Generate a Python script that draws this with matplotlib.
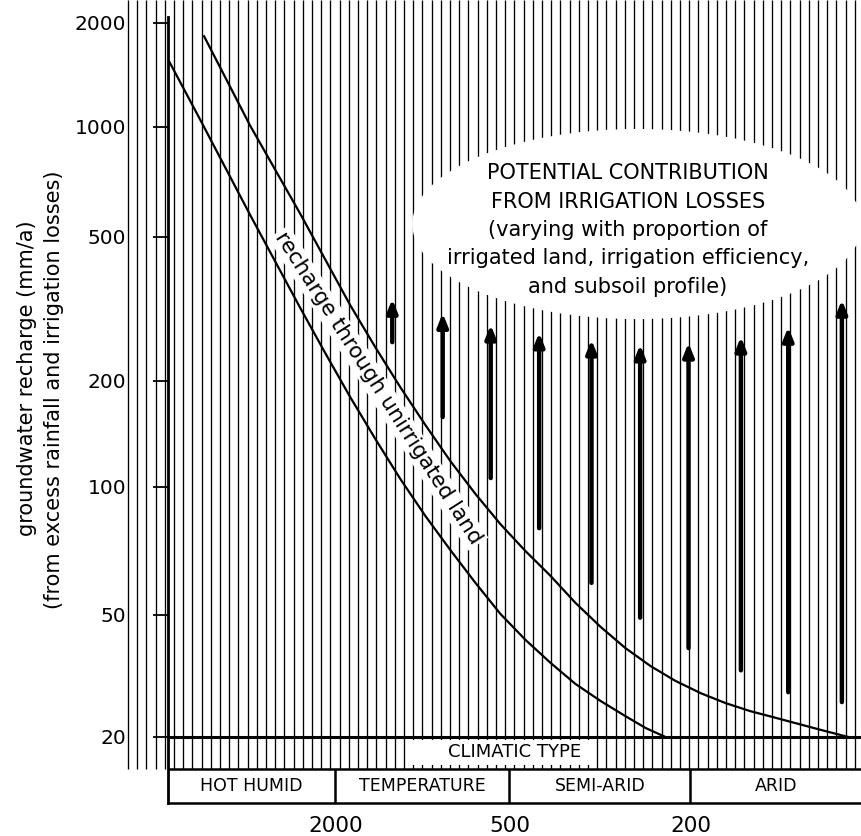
import numpy as np
import matplotlib
matplotlib.use('Agg')
import matplotlib.pyplot as plt
from matplotlib.patches import Ellipse, Rectangle
from matplotlib.ticker import NullLocator

plt.rcParams['font.family'] = ['DejaVu Sans']

# ---- data ----
y_ticks = [20, 50, 100, 200, 500, 1000, 2000]
x_ticks = [2000, 500, 200]
climate_types = ['HOT HUMID', 'TEMPERATURE', 'SEMI-ARID', 'ARID']

# recharge through unirrigated land (two bounding curves)
rain_lower = [7570, 5860, 3940, 2640, 2166, 1775, 1454, 1191, 976, 800, 655, 537,
              461, 406, 358, 315, 278, 251, 227]
rech_lower = [1570, 1050, 575, 318, 239, 180, 137, 105.4, 85.5, 71.1, 59.5, 50.3,
              41.5, 34.9, 29.8, 26.2, 23.4, 21.4, 20]
rain_upper = [5680, 3940, 2640, 1775, 1454, 1191, 976, 800, 655, 537, 461, 406,
              358, 315, 278, 245, 216, 190, 167.5, 148, 130, 115, 101, 90]
rech_upper = [1830, 1010, 578, 324, 248, 192, 150, 118.5, 96.3, 81.8, 70.7, 61.8,
              53.4, 45.7, 39.0, 34.1, 30.5, 27.8, 25.8, 24.3, 23.1, 22.0, 20.9, 20]

# potential contribution from irrigation losses (arrows)
arrow_rain = [1270, 850, 580, 430, 330, 258, 202, 155, 122, 93]
arrow_from = [256, 158, 106, 80, 59.5, 49, 39, 33, 28, 26]
arrow_to = [337, 308, 286, 272, 260, 252, 255, 265, 282, 335]

rain_lim = (7570, 84)
recharge_lim = (20, 2330)

# the original axes are hand drawn, tick spacing is uneven -> anchored log scales
y_anchor_pos = [0, 122, 250, 356, 500, 610, 714]
x_anchor_pos = [167, 341, 522]


def extrap(x, xp, fp):
    x = np.asarray(x, float)
    y = np.interp(x, xp, fp)
    lo = (fp[1] - fp[0]) / (xp[1] - xp[0])
    hi = (fp[-1] - fp[-2]) / (xp[-1] - xp[-2])
    y = np.where(x < xp[0], fp[0] + (x - xp[0]) * lo, y)
    y = np.where(x > xp[-1], fp[-1] + (x - xp[-1]) * hi, y)
    return y


def anchored_scale(vals, pos, sign):
    # forward is increasing in value; sign=-1 for an axis that runs high -> low
    lv = np.log10(np.asarray(vals, float))
    pos = sign * np.asarray(pos, float)
    order = np.argsort(lv)
    lv, pos = lv[order], pos[order]

    def fwd(v):
        v = np.clip(np.asarray(v, float), 1e-12, None)
        return extrap(np.log10(v), lv, pos)

    def inv(p):
        return 10 ** extrap(p, pos, lv)
    return fwd, inv


W, H = 862, 836
fig = plt.figure(figsize=(W / 100, H / 100), dpi=100)


def rect(l, t, r, b):
    return [l / W, 1 - b / H, (r - l) / W, (b - t) / H]


# background vertical hatching
bg = fig.add_axes([0, 0, 1, 1], zorder=0)
bg.set_xlim(0, W)
bg.set_ylim(H, 0)
bg.axis('off')
bg.vlines(np.arange(128, W, 9.2), 0, 769, color='black', lw=0.95)

xscale = anchored_scale(x_ticks, x_anchor_pos, -1)
yscale = anchored_scale(y_ticks, y_anchor_pos, 1)

# main chart
ax = fig.add_axes(rect(168, 0, 862, 737), zorder=1)
ax.patch.set_visible(False)
ax.set_xscale('function', functions=xscale)
ax.set_yscale('function', functions=yscale)
ax.set_xlim(*rain_lim)
ax.set_ylim(*recharge_lim)
ax.set_yticks(y_ticks, [str(v) for v in y_ticks])
ax.set_xticks([])
ax.yaxis.set_minor_locator(NullLocator())
ax.xaxis.set_minor_locator(NullLocator())
ax.spines[['top', 'right']].set_visible(False)
ax.spines['left'].set_linewidth(2)
ax.spines['left'].set_bounds(20, 2080)
ax.spines['bottom'].set_linewidth(2.2)
ax.tick_params(axis='y', direction='out', length=11, width=1.3, pad=19, labelsize=14.5)

# white ellipse with text
ax.add_patch(Ellipse((0.676, 0.696), 0.648, 0.258, transform=ax.transAxes,
                     fc='white', ec='none', zorder=1))
ax.text(0.663, 0.688,
        'POTENTIAL CONTRIBUTION\nFROM IRRIGATION LOSSES\n(varying with proportion of\n'
        'irrigated land, irrigation efficiency,\nand subsoil profile)',
        transform=ax.transAxes, ha='center', va='center', fontsize=15,
        linespacing=1.52, zorder=2)

ax.plot(rain_lower, rech_lower, color='black', lw=1.6, zorder=3)
ax.plot(rain_upper, rech_upper, color='black', lw=1.6, zorder=3)
ax.text(1420, 191, 'recharge through unirrigated land', rotation=-57.4,
        rotation_mode='anchor', ha='center', va='center', fontsize=15.5, zorder=2,
        bbox=dict(boxstyle='square,pad=0.1', fc='white', ec='none'))

for r, a, b in zip(arrow_rain, arrow_from, arrow_to):
    ax.annotate('', xy=(r, b), xytext=(r, a), zorder=4,
                arrowprops=dict(arrowstyle='-|>,head_length=0.55,head_width=0.22',
                                mutation_scale=14, lw=3.2, color='black',
                                shrinkA=0, shrinkB=0))

# climatic type band
bax = fig.add_axes(rect(168, 737, 862, 803), zorder=1)
bax.patch.set_visible(False)
bax.set_xscale('function', functions=xscale)
bax.set_xlim(*rain_lim)
bax.set_ylim(0, 1)
box_top = 34 / 66
bax.add_patch(Rectangle((0, 0), 1, box_top, transform=bax.transAxes, fc='white', ec='none'))
bax.add_patch(Rectangle((0.349, 0.576), 0.259, 0.38, transform=bax.transAxes,
                        fc='white', ec='none'))
bax.text(0.5, 0.77, 'CLIMATIC TYPE', transform=bax.transAxes, ha='center',
         va='center', fontsize=13)
bax.axhline(box_top, color='black', lw=1.8)
bax.vlines(x_ticks, 0, box_top, color='black', lw=1.8)
edges = [rain_lim[0]] + x_ticks + [rain_lim[1]]
for name, a, b in zip(climate_types, edges[:-1], edges[1:]):
    bax.text(np.sqrt(a * b), box_top / 2, name, ha='center', va='center', fontsize=12.5)

bax.spines[['top', 'right']].set_visible(False)
bax.spines['left'].set_linewidth(2)
bax.spines['bottom'].set_linewidth(1.8)
bax.set_yticks([])
bax.set_xticks(x_ticks, [str(v) for v in x_ticks])
bax.xaxis.set_minor_locator(NullLocator())
bax.tick_params(axis='x', length=0, pad=9, labelsize=15.5)

fig.text(27 / W, 1 - 378 / H, 'groundwater recharge (mm/a)', rotation=90,
         ha='center', va='center', fontsize=15)
fig.text(54 / W, 1 - 390 / H, '(from excess rainfall and irrigation losses)',
         rotation=90, ha='center', va='center', fontsize=15)

fig.savefig('out.png', dpi=100)
